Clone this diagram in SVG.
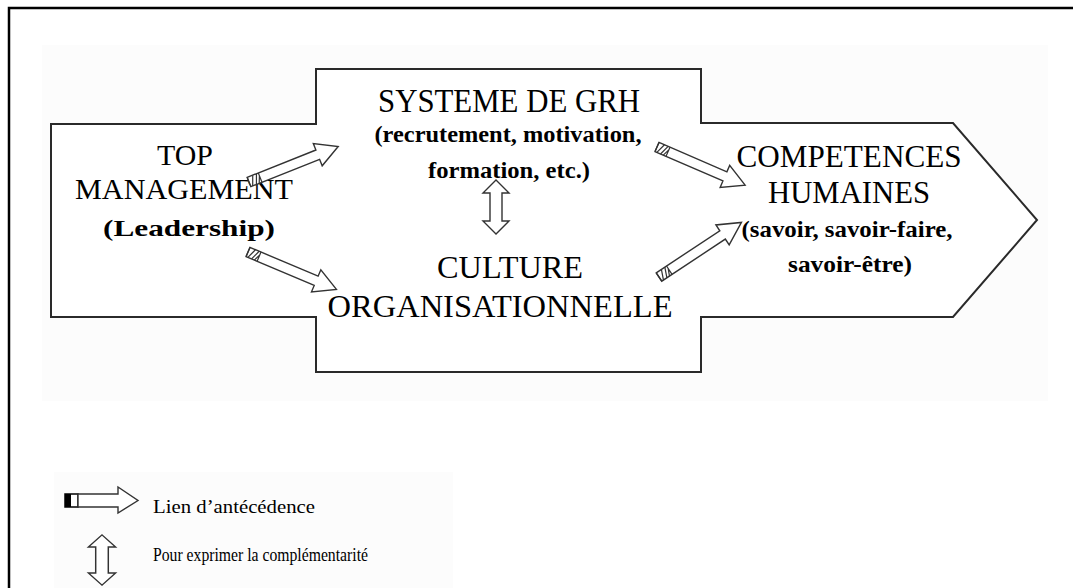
<svg xmlns="http://www.w3.org/2000/svg" width="1073" height="588" viewBox="0 0 1073 588">
<defs>
<style>
.frame{stroke:#000;stroke-width:2.5;fill:none}
.shape{fill:#fff;stroke:#2a2a2a;stroke-width:2}
.h{font-family:"Liberation Serif","Times New Roman",serif;font-size:27px;fill:#000;text-anchor:middle}
.b{font-family:"Liberation Serif","Times New Roman",serif;font-size:20px;font-weight:bold;fill:#000;text-anchor:middle}
.lg{font-family:"Liberation Serif","Times New Roman",serif;font-size:15px;fill:#000}
.arr{fill:#fff;stroke:#333;stroke-width:1.4;stroke-linejoin:miter}
.hatch{stroke:#333;stroke-width:1.2;fill:none}
</style>
<g id="blockArrow">
<path class="arr" d="M0,-5 L74,-5 L74,-12 L96,0 L74,12 L74,5 L0,5 Z"/>
<path class="hatch" d="M0,-5 L0,5 M12,-5 L12,5 M2,5 L6,-5 M6,5 L10,-5 M9,5 L12,-2"/>
</g>
<g id="dblArrow">
<path class="arr" d="M0,-27 L13,-14 L6,-14 L6,14 L13,14 L0,27 L-13,14 L-6,14 L-6,-14 L-13,-14 Z"/>
</g>
</defs>
<rect width="1073" height="588" fill="#fff"/>
<path class="frame" d="M9,588 L9,8 L1073,8"/>
<rect x="42" y="45" width="1006" height="356" fill="#fcfcfc"/>
<rect x="54" y="472" width="399" height="116" fill="#fcfcfc"/>

<g id="main-shape">
<path class="shape" d="M51,124 L316,124 L316,69 L701,69 L701,123 L953,123 L1037,220 L953,317 L701,317 L701,372 L316,372 L316,317 L51,317 Z"/>
</g>

<g id="top-management">
<text class="h" transform="translate(185,165) scale(1,1.12)" textLength="56" lengthAdjust="spacingAndGlyphs">TOP</text>
<text class="h" transform="translate(184,199) scale(1,1.12)" textLength="218" lengthAdjust="spacingAndGlyphs">MANAGEMENT</text>
<text class="b" transform="translate(189,236) scale(1,1.2)" textLength="172" lengthAdjust="spacingAndGlyphs">(Leadership)</text>
</g>

<g id="systeme-grh">
<text class="h" transform="translate(509,112) scale(1,1.25)" textLength="262" lengthAdjust="spacingAndGlyphs">SYSTEME DE GRH</text>
<text class="b" transform="translate(508,142) scale(1,1.2)" textLength="267" lengthAdjust="spacingAndGlyphs">(recrutement, motivation,</text>
<text class="b" transform="translate(509,178) scale(1,1.2)" textLength="162" lengthAdjust="spacingAndGlyphs">formation, etc.)</text>
</g>

<g id="culture">
<text class="h" transform="translate(510,278) scale(1,1.2)" textLength="146" lengthAdjust="spacingAndGlyphs">CULTURE</text>
<text class="h" transform="translate(500,317) scale(1,1.2)" textLength="345" lengthAdjust="spacingAndGlyphs">ORGANISATIONNELLE</text>
</g>

<g id="competences">
<text class="h" transform="translate(849,167) scale(1,1.2)" textLength="225" lengthAdjust="spacingAndGlyphs">COMPETENCES</text>
<text class="h" transform="translate(849,203) scale(1,1.2)" textLength="162" lengthAdjust="spacingAndGlyphs">HUMAINES</text>
<text class="b" transform="translate(847,237) scale(1,1.2)" textLength="211" lengthAdjust="spacingAndGlyphs">(savoir, savoir-faire,</text>
<text class="b" transform="translate(850,272) scale(1,1.2)" textLength="124" lengthAdjust="spacingAndGlyphs">savoir-être)</text>
</g>

<g id="connectors">
<use href="#blockArrow" transform="translate(249,182) rotate(-21.7)"/>
<use href="#blockArrow" transform="translate(248,252) rotate(22.9)"/>
<use href="#blockArrow" transform="translate(657,147) rotate(23.4)"/>
<use href="#blockArrow" transform="translate(659,277) rotate(-33.5) scale(1.03,1)"/>
<use href="#dblArrow" transform="translate(496,207)"/>
</g>

<g id="legend">
<rect x="65" y="494" width="13" height="13" fill="#fff" stroke="#000" stroke-width="1.5"/>
<rect x="65" y="494" width="6" height="13" fill="#000"/>
<path class="arr" d="M78,494 L118,494 L118,487 L138,500.5 L118,513 L118,507 L78,507 Z"/>
<text class="lg" transform="translate(153,513) scale(1,1.2)" textLength="162" lengthAdjust="spacingAndGlyphs">Lien d’antécédence</text>
<use href="#dblArrow" transform="translate(102,560) scale(1.05,0.93)"/>
<text class="lg" transform="translate(153,561) scale(1,1.2)" textLength="215" lengthAdjust="spacingAndGlyphs">Pour exprimer la complémentarité</text>
</g>
</svg>
